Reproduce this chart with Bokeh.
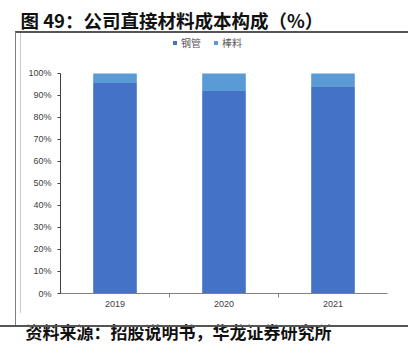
from bokeh.plotting import figure
from bokeh.models import (ColumnDataSource, Legend, LegendItem, Title,
                          FixedTicker, NumeralTickFormatter, InlineStyleSheet)
from bokeh.embed import file_html
from bokeh.resources import INLINE

years = ["2019", "2020", "2021"]
steel_pipe = [0.957, 0.920, 0.942]
bar_stock = [0.043, 0.080, 0.058]
series_names = ["钢管", "棒料"]
y_ticks = [0.0, 0.1, 0.2, 0.3, 0.4, 0.5, 0.6, 0.7, 0.8, 0.9, 1.0]
title_text = "图 49：公司直接材料成本构成（%）"
source_text = "资料来源：招股说明书，华龙证券研究所"

colors = ["#4472C4", "#5B9BD5"]
xs = list(range(len(years)))
src = ColumnDataSource(dict(x=xs, pipe=steel_pipe, bar=bar_stock))

frame_css = InlineStyleSheet(css="""
:host { position: relative; }
:host::after {
  content: ""; position: absolute; pointer-events: none; z-index: 10;
  left: 15px; top: 31px; width: 393px; height: 294px;
  border-top: 2px solid #555555; border-left: 1px solid #808080;
  background: linear-gradient(to right, transparent 4px, #c8c8c8 4px, #c8c8c8 5px, transparent 5px) no-repeat;
  background-size: 100% 280px;
  box-sizing: border-box;
}
:host::before {
  content: ""; position: absolute; pointer-events: none; z-index: 10;
  left: 0px; top: 325px; width: 408px; height: 2px; background: #555555;
}
""")

# frame top sits above the 100% line to leave room for the legend
p = figure(width=408, height=353, output_backend="svg", toolbar_location=None,
           x_range=(-0.5, len(years) - 0.5), y_range=(0, 1.168),
           min_border_left=60, min_border_right=21, min_border_top=36, min_border_bottom=60,
           stylesheets=[frame_css])
p.outline_line_color = None
p.xgrid.visible = False
p.ygrid.visible = False

rs = p.vbar_stack(["pipe", "bar"], x="x", width=0.4, source=src, color=colors, line_color=None)

# axes
p.yaxis.ticker = FixedTicker(ticks=y_ticks)
p.yaxis.bounds = (0, 1)
p.yaxis.formatter = NumeralTickFormatter(format="0%")
p.yaxis.major_tick_out = 3
p.yaxis.major_tick_in = 0
p.yaxis.minor_tick_out = 0
p.yaxis.minor_tick_in = 0
p.yaxis.axis_line_color = "#404040"
p.yaxis.major_tick_line_color = "#404040"
p.yaxis.major_label_text_font = "Liberation Sans"
p.yaxis.major_label_text_font_size = "9px"
p.yaxis.major_label_text_color = "#404040"
p.yaxis.major_label_standoff = 6

p.xaxis.ticker = FixedTicker(ticks=xs, minor_ticks=[i + 0.5 for i in xs[:-1]])
p.xaxis.major_label_overrides = {i: y for i, y in zip(xs, years)}
p.xaxis.major_tick_out = 0
p.xaxis.major_tick_in = 0
p.xaxis.minor_tick_out = 4
p.xaxis.minor_tick_in = 0
p.xaxis.axis_line_color = "#808080"
p.xaxis.minor_tick_line_color = "#808080"
p.xaxis.major_label_text_font = "Liberation Sans"
p.xaxis.major_label_text_font_size = "9px"
p.xaxis.major_label_text_color = "#404040"
p.xaxis.major_label_standoff = 3

legend = Legend(items=[LegendItem(label=n, renderers=[r]) for n, r in zip(series_names, rs)],
                location=(112, 243), orientation="horizontal",
                label_text_font="Noto Sans CJK SC", label_text_font_size="10px",
                label_text_color="#595959", glyph_width=5, glyph_height=5,
                label_standoff=4, spacing=12, padding=0, margin=0,
                label_height=11, border_line_color=None, background_fill_alpha=0)
p.add_layout(legend)

p.add_layout(Title(text=title_text, text_font="Noto Sans CJK SC", text_font_style="bold",
                   text_font_size="18.5px", text_color="#111111", align="left",
                   offset=-40, standoff=8), "above")
p.add_layout(Title(text=source_text, text_font="Noto Sans CJK SC", text_font_style="bold",
                   text_font_size="17px", text_color="#111111", align="left",
                   offset=-35, standoff=14), "below")

open("out.html", "w").write(file_html(p, INLINE))
